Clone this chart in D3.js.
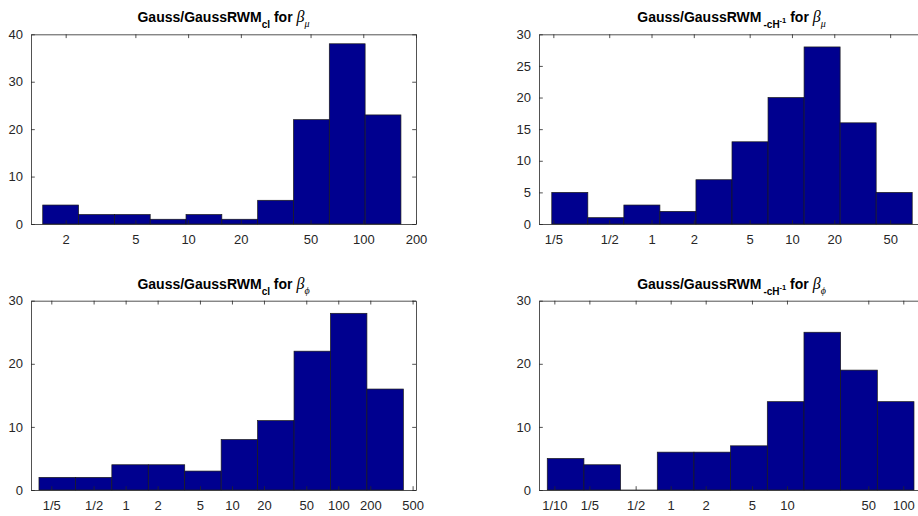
<!DOCTYPE html>
<html>
<head>
<meta charset="utf-8">
<script src="https://cdn.jsdelivr.net/npm/d3@7"></script>
<style>
  html, body { margin: 0; padding: 0; background: #fff; }
  svg { display: block; }
</style>
</head>
<body>
<svg id="chart" width="918" height="516"></svg>
<script>
// ---------- DATA ----------
// Top-left: Gauss/GaussRWM_cl for beta_mu
const tlCounts = [4, 2, 2, 1, 2, 1, 5, 22, 38, 23];
const tlEdgesLog10 = [0.170, 0.3745, 0.579, 0.7835, 0.988, 1.1925, 1.397, 1.6015, 1.806, 2.0105, 2.215];
const tlDomainLog10 = [0.103, 2.301];
const tlXTickValues = [2, 5, 10, 20, 50, 100, 200];
const tlXTickLabels = ["2", "5", "10", "20", "50", "100", "200"];
const tlYTicks = [0, 10, 20, 30, 40];

// Top-right: Gauss/GaussRWM_-cH^-1 for beta_mu
const trCounts = [5, 1, 3, 2, 7, 13, 20, 28, 16, 5];
const trEdgesLog10 = [-0.710, -0.4534, -0.1968, 0.0598, 0.3164, 0.573, 0.8296, 1.0862, 1.3428, 1.5994, 1.856];
const trDomainLog10 = [-0.801, 1.940];
const trXTickValues = [0.2, 0.5, 1, 2, 5, 10, 20, 50];
const trXTickLabels = ["1/5", "1/2", "1", "2", "5", "10", "20", "50"];
const trYTicks = [0, 5, 10, 15, 20, 25, 30];

// Bottom-left: Gauss/GaussRWM_cl for beta_phi
const blCounts = [2, 2, 4, 4, 3, 8, 11, 22, 28, 16];
const blEdgesLog10 = [-0.815, -0.4723, -0.1296, 0.2131, 0.5558, 0.8985, 1.2412, 1.5839, 1.9266, 2.2693, 2.612];
const blDomainLog10 = [-0.890, 2.731];
const blXTickValues = [0.2, 0.5, 1, 2, 5, 10, 20, 50, 100, 200, 500];
const blXTickLabels = ["1/5", "1/2", "1", "2", "5", "10", "20", "50", "100", "200", "500"];
const blYTicks = [0, 10, 20, 30];

// Bottom-right: Gauss/GaussRWM_-cH^-1 for beta_phi
const brCounts = [5, 4, 0, 6, 6, 7, 14, 25, 19, 14];
const brEdgesLog10 = [-1.061, -0.7457, -0.4304, -0.1151, 0.2002, 0.5155, 0.8308, 1.1461, 1.4614, 1.7767, 2.092];
const brDomainLog10 = [-1.132, 2.178];
const brXTickValues = [0.1, 0.2, 0.5, 1, 2, 5, 10, 50, 100];
const brXTickLabels = ["1/10", "1/5", "1/2", "1", "2", "5", "10", "50", "100"];
const brYTicks = [0, 10, 20, 30];

// Title parts
const titleMain = "Gauss/GaussRWM";
const subCl = "cl";
const subCH = "-cH";
const supMinusOne = "-1";
const titleFor = " for ";
const symBeta = "β";
const subMu = "μ";
const subPhi = "ϕ";

// ---------- LAYOUT ----------
const svg = d3.select("#chart");
const axisColor = "#262626";
const barFill = "#00008F";
const barStroke = "#1a1a1a";

const panels = [
  { counts: tlCounts, edges: tlEdgesLog10, dom: tlDomainLog10, xt: tlXTickValues, xl: tlXTickLabels, yt: tlYTicks,
    box: { x0: 31, x1: 416, y0: 34.3, y1: 224 }, sub: "cl", greek: subMu },
  { counts: trCounts, edges: trEdgesLog10, dom: trDomainLog10, xt: trXTickValues, xl: trXTickLabels, yt: trYTicks,
    box: { x0: 539, x1: 924, y0: 34.3, y1: 224 }, sub: "cH", greek: subMu },
  { counts: blCounts, edges: blEdgesLog10, dom: blDomainLog10, xt: blXTickValues, xl: blXTickLabels, yt: blYTicks,
    box: { x0: 31, x1: 416, y0: 300.7, y1: 490 }, sub: "cl", greek: subPhi },
  { counts: brCounts, edges: brEdgesLog10, dom: brDomainLog10, xt: brXTickValues, xl: brXTickLabels, yt: brYTicks,
    box: { x0: 539, x1: 924, y0: 300.7, y1: 490 }, sub: "cH", greek: subPhi }
];

const tickLen = 3.8;

panels.forEach(p => {
  const b = p.box;
  const x = d3.scaleLog().domain(p.dom.map(v => Math.pow(10, v))).range([b.x0, b.x1]);
  const y = d3.scaleLinear().domain([d3.min(p.yt), d3.max(p.yt)]).range([b.y1, b.y0]);
  const g = svg.append("g");

  // bars
  const bins = p.counts.map((c, i) => ({ c, lo: Math.pow(10, p.edges[i]), hi: Math.pow(10, p.edges[i + 1]) }));
  g.selectAll("rect.bar").data(bins).enter().append("rect")
    .attr("class", "bar")
    .attr("x", d => x(d.lo))
    .attr("width", d => x(d.hi) - x(d.lo))
    .attr("y", d => y(d.c))
    .attr("height", d => Math.max(0.01, y(0) - y(d.c)))
    .attr("fill", barFill)
    .attr("stroke", barStroke)
    .attr("stroke-width", 0.7);

  // axes using d3 axis generators (ticks inward, mirrored)
  const xb = d3.axisBottom(x).tickValues(p.xt).tickFormat((d, i) => p.xl[i]).tickSizeInner(-tickLen).tickSizeOuter(0).tickPadding(8);
  const xtop = d3.axisTop(x).tickValues(p.xt).tickFormat("").tickSizeInner(-tickLen).tickSizeOuter(0);
  const yl = d3.axisLeft(y).tickValues(p.yt).tickFormat(d3.format("d")).tickSizeInner(-tickLen).tickSizeOuter(0).tickPadding(8);
  const yr = d3.axisRight(y).tickValues(p.yt).tickFormat("").tickSizeInner(-tickLen).tickSizeOuter(0);

  const styleAxis = sel => {
    sel.selectAll("path.domain").attr("stroke", axisColor).attr("stroke-width", 0.8);
    sel.selectAll(".tick line").attr("stroke", axisColor).attr("stroke-width", 0.8);
    sel.selectAll(".tick text").attr("fill", axisColor)
      .style("font-family", "'Liberation Sans', Arial, Helvetica, sans-serif")
      .style("font-size", "13px");
  };

  g.append("g").attr("transform", `translate(0,${b.y1})`).call(xb).call(styleAxis)
    .selectAll(".tick text").attr("dy", "0.95em");
  g.append("g").attr("transform", `translate(0,${b.y0})`).call(xtop).call(styleAxis);
  g.append("g").attr("transform", `translate(${b.x0},0)`).call(yl).call(styleAxis);
  g.append("g").attr("transform", `translate(${b.x1},0)`).call(yr).call(styleAxis);

  // title
  const cx = (b.x0 + b.x1) / 2;
  const t = g.append("text")
    .attr("x", cx)
    .attr("y", b.y0 - 12)
    .attr("text-anchor", "middle")
    .attr("fill", "#000")
    .style("font-family", "'Liberation Sans', Arial, Helvetica, sans-serif")
    .style("font-weight", "bold")
    .style("font-size", "14px");
  t.append("tspan").text(titleMain);
  if (p.sub === "cl") {
    t.append("tspan").attr("dy", 6).style("font-size", "10px").text(subCl);
    t.append("tspan").attr("dy", -6).text(titleFor);
  } else {
    t.append("tspan").attr("dy", 6).attr("dx", 2).style("font-size", "10px").text(subCH);
    t.append("tspan").attr("dy", -5).style("font-size", "7.5px").text(supMinusOne);
    t.append("tspan").attr("dy", -1).text(titleFor);
  }
  t.append("tspan")
    .style("font-family", "'Liberation Serif', 'Times New Roman', serif")
    .style("font-style", "italic").style("font-weight", "normal").style("font-size", "16px")
    .text(symBeta);
  t.append("tspan").attr("dy", 5)
    .style("font-family", "'Liberation Serif', 'Times New Roman', serif")
    .style("font-style", "italic").style("font-weight", "normal").style("font-size", "10px")
    .text(p.greek);
});
</script>
</body>
</html>
